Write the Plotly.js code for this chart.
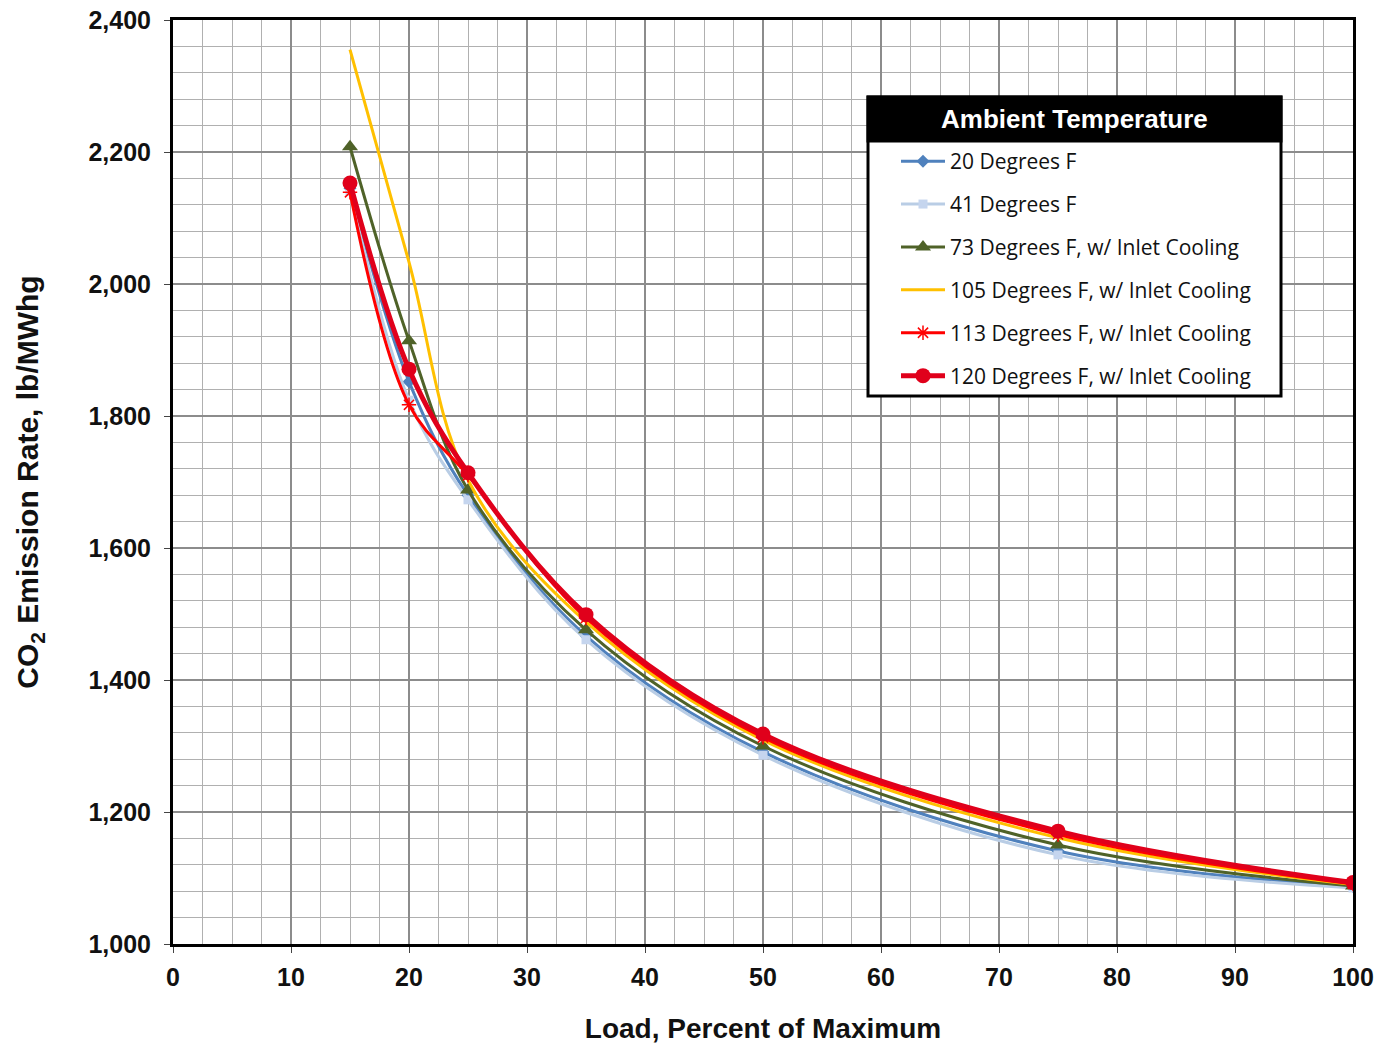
<!DOCTYPE html>
<html><head><meta charset="utf-8">
<script src="https://cdn.plot.ly/plotly-3.0.1.min.js"></script>
<style>html,body{margin:0;padding:0;background:#fff}</style>
</head><body>
<div id="chart" style="width:1387px;height:1047px"></div>
<script>
const loadPct = [15, 20, 25, 35, 50, 75, 100];
const deg20  = [2145, 1852, 1680, 1467, 1291, 1141, 1087];
const deg41  = [2140, 1824, 1673, 1461, 1286, 1135, 1085];
const deg73  = [2208, 1914, 1688, 1476, 1300, 1150, 1088];
const deg105 = [2355, 2033, 1703, 1488, 1309, 1161, 1090];
const deg113 = [2139, 1817, 1710, 1494, 1313, 1166, 1091];
const deg120 = [2153, 1871, 1714, 1499, 1318, 1171, 1093];
const seriesNames = ["20 Degrees F", "41 Degrees F", "73 Degrees F, w/ Inlet Cooling",
  "105 Degrees F, w/ Inlet Cooling", "113 Degrees F, w/ Inlet Cooling", "120 Degrees F, w/ Inlet Cooling"];
const legendTitle = "Ambient Temperature";

const styles = [
  {color:'#4f81bd', width:3, marker:{symbol:'diamond', size:10, color:'#4f81bd'}},
  {color:'#b9cde5', width:3, marker:{symbol:'square', size:9, color:'#c5d5ee'}},
  {color:'#4f6228', width:3, marker:{symbol:'triangle-up', size:14, color:'#4f6228'}},
  {color:'#ffc000', width:3, marker:{size:1, color:'#ffc000', opacity:0}},
  {color:'#ff0000', width:3, marker:{symbol:'asterisk-open', size:12, color:'#ff0000', line:{width:1.5, color:'#ff0000'}}},
  {color:'#e0001b', width:5, marker:{symbol:'circle', size:15, color:'#e0001b'}}
];
const data = [deg20, deg41, deg73, deg105, deg113, deg120];
const traces = data.map((ys, i) => ({
  x: loadPct, y: ys, name: seriesNames[i], type: 'scatter',
  mode: i === 3 ? 'lines' : 'lines+markers',
  line: {color: styles[i].color, width: styles[i].width, shape: 'spline', smoothing: 1},
  marker: styles[i].marker,
  legendgroup: 'g' + i
}));

const L = 173, R = 1353, T = 20, B = 944;
const px = v => (v - L) / (R - L);
const py = v => (B - v) / (B - T);

const layout = {
  width: 1387, height: 1047,
  margin: {l: L, r: 1387 - R, t: T, b: 1047 - B},
  paper_bgcolor: '#fff', plot_bgcolor: '#fff',
  font: {family: 'Liberation Sans, Arial, sans-serif', color: '#000'},
  showlegend: true,
  legend: {
    x: px(896), y: py(141), xanchor: 'left', yanchor: 'top',
    bgcolor: 'rgba(0,0,0,0)', borderwidth: 0,
    font: {family: 'Open Sans, Noto Sans, sans-serif', size: 21, color: '#111'},
    traceorder: 'grouped', tracegroupgap: 12.6, itemwidth: 44
  },
  xaxis: {
    range: [0, 100], dtick: 10, tick0: 0,
    showgrid: true, gridcolor: '#8c8c8c', gridwidth: 1.3,
    minor: {dtick: 2.5, showgrid: true, gridcolor: '#b0b0b0', gridwidth: 1},
    showline: true, mirror: true, linecolor: '#000', linewidth: 3,
    ticks: 'outside', ticklen: 6, tickcolor: '#444', ticklabelstandoff: 3,
    tickfont: {family: 'Liberation Sans, Arial, sans-serif', size: 25, color: '#111', weight: 'bold'},
    zeroline: false,
    title: {text: '<b>Load, Percent of Maximum</b>', font: {size: 28, color: '#111'}, standoff: 29}
  },
  yaxis: {
    range: [1000, 2400], dtick: 200, tick0: 1000, tickformat: ',d',
    showgrid: true, gridcolor: '#8c8c8c', gridwidth: 1.3,
    minor: {dtick: 40, showgrid: true, gridcolor: '#b0b0b0', gridwidth: 1},
    showline: true, mirror: true, linecolor: '#000', linewidth: 3,
    ticks: 'outside', ticklen: 6, tickcolor: '#444', ticklabelstandoff: 8,
    tickfont: {family: 'Liberation Sans, Arial, sans-serif', size: 25, color: '#111', weight: 'bold'},
    zeroline: false,
    title: {text: '<b>CO<sub>2</sub> Emission Rate, lb/MWhg</b>', font: {size: 30, color: '#111'}, standoff: 41}
  },
  shapes: [
    {type: 'rect', xref: 'paper', yref: 'paper', x0: px(868), x1: px(1281), y0: py(396), y1: py(97),
     fillcolor: '#fff', line: {color: '#000', width: 3}, layer: 'above'},
    {type: 'rect', xref: 'paper', yref: 'paper', x0: px(868), x1: px(1281), y0: py(141), y1: py(97),
     fillcolor: '#000', line: {color: '#000', width: 3}, layer: 'above'}
  ],
  annotations: [
    {xref: 'paper', yref: 'paper', x: px(1074), y: py(119), xanchor: 'center', yanchor: 'middle',
     text: '<b>' + legendTitle + '</b>', showarrow: false,
     font: {family: 'Liberation Sans, Arial, sans-serif', size: 26, color: '#fff'}}
  ]
};

Plotly.newPlot('chart', traces, layout, {displayModeBar: false, staticPlot: true});
</script>
</body></html>
